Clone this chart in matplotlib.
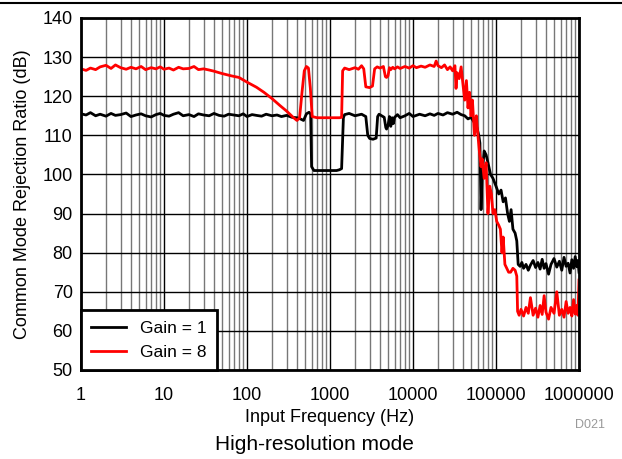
import matplotlib
matplotlib.use('Agg')

import matplotlib.pyplot as plt
from matplotlib.lines import Line2D
from matplotlib.ticker import FixedLocator, FixedFormatter, LogLocator, NullFormatter

plt.rcParams['font.family'] = ['Liberation Sans', 'DejaVu Sans']

# Gain = 1 (black trace)
gain1_freq = [
    1, 1.15, 1.3, 1.5, 1.7, 2, 2.3, 2.6, 3, 3.5,
    4, 4.6, 5.3, 6, 7, 8, 9, 10, 11.5, 13,
    15, 17, 20, 23, 26, 30, 35, 40, 46, 53,
    60, 70, 80, 90, 100, 115, 130, 150, 170, 200,
    230, 260, 300, 350, 400, 440, 480, 520, 560, 585,
    600, 640, 700, 800, 900, 1000, 1100, 1200, 1300, 1380,
    1450, 1500, 1700, 2000, 2400, 2700, 2850, 3000, 3300, 3600,
    3750, 3900, 4200, 4500, 4700, 4800, 5000, 5200, 5400, 5600,
    5800, 6000, 6500, 7000, 8000, 9000, 10000, 12000, 14000, 16000,
    18000, 20000, 23000, 26000, 30000, 34000, 38000, 42000, 46000, 50000,
    54000, 58000, 62000, 64000, 66000, 68000, 72000, 76000, 80000, 86000,
    92000, 100000, 108000, 115000, 122000, 130000, 138000, 145000, 152000, 160000,
    170000, 178000, 185000, 195000, 205000, 215000, 230000, 245000, 260000, 280000,
    300000, 320000, 340000, 360000, 380000, 400000, 430000, 460000, 500000, 540000,
    580000, 620000, 660000, 700000, 740000, 780000, 820000, 860000, 900000, 940000,
    970000, 1000000,
]
gain1_cmrr = [
    115.5, 115.2, 115.8, 115.0, 115.4, 114.9, 115.6, 115.1, 115.3, 115.7,
    114.8, 115.2, 115.5, 115.0, 114.7, 115.3, 115.6, 115.1, 114.9, 115.4,
    115.8, 115.0, 115.3, 114.8, 115.5, 115.2, 115.0, 115.6, 115.1, 114.9,
    115.4, 115.2, 115.0, 115.5, 114.8, 115.3, 115.1, 114.9, 115.4, 115.0,
    115.2, 114.8, 115.1, 114.6, 114.5, 114.2, 113.8, 115.5, 115.9, 115.4,
    102.0, 101.0, 101.0, 101.0, 101.0, 101.0, 101.0, 101.0, 101.2, 101.5,
    114.5, 115.3, 115.6, 115.0, 115.4, 114.8, 110.0, 109.2, 109.0, 109.3,
    114.8, 115.4, 115.0, 114.6, 112.0, 111.6, 112.5, 114.8, 112.3, 114.5,
    113.0, 114.6, 115.3, 114.5, 115.0, 115.6, 114.8, 115.4, 115.0, 115.5,
    115.1, 115.6, 115.2, 115.8, 115.4, 115.9, 115.3, 115.0, 114.2, 114.6,
    113.5, 112.5, 110.0, 108.0, 91.0, 100.0, 106.0, 105.0, 103.0, 100.0,
    99.0, 97.0, 95.0, 96.0, 93.0, 94.0, 90.0, 88.0, 91.0, 86.0,
    85.0, 83.0, 77.0, 76.5, 77.5, 76.0, 77.0, 75.5, 76.8, 78.0,
    76.2, 77.5, 75.8, 78.3, 76.0, 77.2, 74.5, 77.0, 78.5, 76.3,
    77.8, 75.5, 78.8, 76.5, 77.3, 74.8, 78.2, 76.0, 79.0, 76.4,
    78.0, 75.0,
]

# Gain = 8 (red trace)
gain8_freq = [
    1, 1.15, 1.3, 1.5, 1.7, 2, 2.3, 2.6, 3, 3.5,
    4, 4.6, 5.3, 6, 7, 8, 9, 10, 11.5, 13,
    15, 17, 20, 23, 26, 30, 35, 40, 50, 65,
    80, 100, 130, 160, 200, 250, 300, 360, 400, 430,
    460, 490, 520, 550, 580, 610, 700, 800, 900, 1000,
    1100, 1200, 1300, 1380, 1420, 1500, 1700, 2000, 2200, 2400,
    2550, 2700, 3000, 3250, 3450, 3700, 4000, 4400, 4650, 4800,
    5000, 5200, 5400, 5700, 6000, 6500, 7000, 8000, 9000, 10000,
    11000, 12500, 14000, 16000, 18000, 19000, 20000, 22000, 24000, 26000,
    28000, 30000, 32000, 33000, 34000, 36000, 38000, 40000, 42000, 44000,
    46000, 48000, 50000, 52000, 55000, 58000, 60000, 63000, 66000, 68000,
    72000, 76000, 80000, 84000, 88000, 92000, 97000, 102000, 108000, 113000,
    118000, 122000, 128000, 135000, 142000, 150000, 160000, 170000, 178000, 182000,
    190000, 200000, 215000, 230000, 245000, 260000, 280000, 300000, 320000, 340000,
    360000, 380000, 400000, 430000, 460000, 500000, 540000, 580000, 620000, 660000,
    700000, 740000, 780000, 820000, 860000, 900000, 940000, 970000, 1000000,
]
gain8_cmrr = [
    127.0, 126.6, 127.2, 126.8, 127.5, 127.9, 127.1, 128.0, 127.3, 126.9,
    127.4, 127.0, 127.6, 126.8, 127.3, 127.0, 127.5, 126.9, 127.2, 126.7,
    127.4, 127.0, 127.1, 127.6, 126.8, 127.0, 126.7, 126.4, 125.8, 125.2,
    124.8, 123.6, 122.3, 121.0, 119.4, 117.6, 116.2, 114.6, 113.8, 114.5,
    121.0, 126.5, 127.6, 127.2, 122.0, 114.8, 114.5, 114.5, 114.5, 114.5,
    114.5, 114.5, 114.5, 114.6, 126.5, 127.2, 126.8, 127.3, 126.9, 127.8,
    127.0, 122.4, 122.2, 122.6, 127.0, 127.5, 127.2, 127.6, 125.0, 124.8,
    125.2, 127.3, 126.8, 127.4, 127.0, 127.5, 127.1, 127.6, 127.2, 127.8,
    127.3, 127.7, 127.4, 128.0, 127.6, 129.0, 127.8, 127.3, 128.0, 126.8,
    127.5, 126.5, 127.8, 122.0, 126.0, 124.5, 127.5, 123.0, 119.0, 124.0,
    117.0, 121.0, 115.0, 119.0, 110.0, 115.0, 111.0, 106.0, 102.0, 104.0,
    99.0, 103.0, 90.0, 97.0, 95.0, 90.0, 91.0, 88.0, 87.0, 86.0,
    80.0, 84.0, 77.0, 76.0, 75.0, 75.0, 76.0, 75.5, 74.0, 65.0,
    64.0, 65.5, 63.8, 66.0, 64.5, 68.5, 64.0, 65.8, 63.5, 66.5,
    64.2, 69.0, 64.8, 63.0, 66.0, 64.5, 70.0, 64.0, 65.5, 63.5,
    67.5, 64.5, 66.0, 63.8, 68.0, 64.3, 66.5, 64.0, 73.0,
]

x_ticks = [1, 10, 100, 1000, 10000, 100000, 1000000]
x_tick_labels = ['1', '10', '100', '1000', '10000', '100000', '1000000']
y_ticks = [50, 60, 70, 80, 90, 100, 110, 120, 130, 140]

fig = plt.figure(figsize=(6.22, 4.59), dpi=100)
ax = fig.add_axes([81 / 622, 1 - 370 / 459, 498 / 622, 352 / 459])

ax.plot(gain1_freq, gain1_cmrr, color='black', lw=2.0, label='Gain = 1', zorder=3)
ax.plot(gain8_freq, gain8_cmrr, color='red', lw=2.0, label='Gain = 8', zorder=3)

ax.set_xscale('log')
ax.set_xlim(1, 1000000)
ax.set_ylim(50, 140)

ax.xaxis.set_major_locator(FixedLocator(x_ticks))
ax.xaxis.set_major_formatter(FixedFormatter(x_tick_labels))
ax.xaxis.set_minor_locator(LogLocator(base=10, subs=range(2, 10), numticks=20))
ax.xaxis.set_minor_formatter(NullFormatter())
ax.set_yticks(y_ticks)

ax.grid(True, which='major', color='black', lw=1.0, zorder=1)
ax.grid(True, which='minor', axis='x', color='#777777', lw=1.0, zorder=1)
ax.tick_params(which='both', length=0, labelsize=13)
ax.tick_params(axis='x', pad=12)
ax.tick_params(axis='y', pad=6)

for s in ax.spines.values():
    s.set_linewidth(2.0)
    s.set_zorder(4)

ax.set_xlabel('Input Frequency (Hz)', fontsize=13)
ax.xaxis.set_label_coords(0.5, -(409 - 370) / 352, transform=ax.transAxes)
ax.set_ylabel('Common Mode Rejection Ratio (dB)', fontsize=13, labelpad=8)

leg = ax.legend(loc='lower left', fontsize=12.5, frameon=True, fancybox=False,
                borderaxespad=0, framealpha=1, edgecolor='black',
                handlelength=2.0, borderpad=0.6)
leg.get_frame().set_linewidth(2.0)
leg.set_zorder(5)

fig.text(0.505, 1 - 444 / 459, 'High-resolution mode', ha='center', va='center', fontsize=15)
fig.text(590 / 622, 1 - 425 / 459, 'D021', ha='center', va='center', fontsize=9, color='#999999')
fig.add_artist(Line2D([0, 1], [1 - 3 / 459, 1 - 3 / 459], color='black', lw=1.5))

fig.savefig('out.png', dpi=100)
plt.close(fig)
